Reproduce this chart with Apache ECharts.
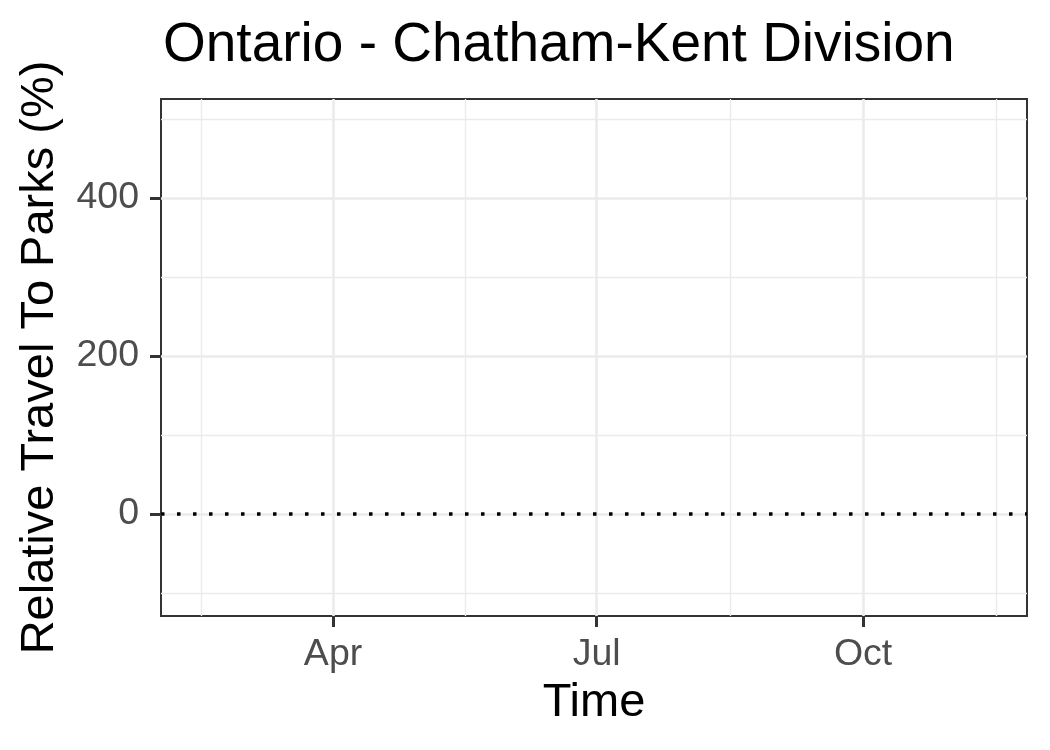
<!DOCTYPE html>
<html>
<head>
<meta charset="utf-8">
<script src="https://cdn.jsdelivr.net/npm/echarts@6/dist/echarts.min.js"></script>
<style>html,body{margin:0;padding:0;background:#fff}#c{width:1050px;height:750px}</style>
</head>
<body>
<div id="c"></div>
<script>
// ---- data ----
const titleText = 'Ontario - Chatham-Kent Division';
const xTitle = 'Time';
const yTitle = 'Relative Travel To Parks (%)';
// x positions are day-of-year 2020 (Jan 1 = 0)
const xTickDays = [91, 182, 274];
const xTickLabels = ['Apr', 'Jul', 'Oct'];
const xMinorDays = [45.5, 136.5, 228, 320];
const xRange = [31.6, 330.6];
const yTicks = [0, 200, 400];
const yMinor = [-100, 100, 300, 500];
const yRange = [-129.1, 525.3];
const refLineValue = [0];
const seriesValues = []; // no data drawn in the reference

const chart = echarts.init(document.getElementById('c'));
const font = 'Liberation Sans, Arial, sans-serif';
const majorStyle = {color: '#ebebeb', width: 2.6, type: 'solid'};
const minorStyle = {color: '#ebebeb', width: 1.4, type: 'solid'};
function ml(data) {
  return {symbol: ['none','none'], silent: true, animation: false,
    label: {show: false}, emphasis: {disabled: true}, data: data};
}
chart.setOption({
  animation: false,
  backgroundColor: '#ffffff',
  title: {text: titleText, left: 158, top: 13,
    textStyle: {fontFamily: font, fontSize: 55, fontWeight: 'normal', color: '#000'}},
  grid: {left: 161, right: 23, top: 99, bottom: 134, show: true, z: 5,
    borderColor: '#333333', borderWidth: 2, backgroundColor: 'transparent'},
  xAxis: {type: 'value', min: xRange[0], max: xRange[1],
    name: xTitle, nameLocation: 'middle', nameGap: 64,
    nameTextStyle: {fontFamily: font, fontSize: 47, color: '#000'},
    axisLine: {show: false, onZero: false},
    splitLine: {show: false},
    axisTick: {show: true, customValues: xTickDays, length: 11, lineStyle: {color: '#333', width: 3}},
    axisLabel: {show: true, customValues: xTickDays, margin: 20,
      fontFamily: font, fontSize: 37.5, color: '#4d4d4d',
      formatter: function (v) { const i = xTickDays.indexOf(v); return i >= 0 ? xTickLabels[i] : ''; }}
  },
  yAxis: {type: 'value', min: yRange[0], max: yRange[1],
    name: yTitle, nameLocation: 'middle', nameGap: 97, nameRotate: 90,
    nameTextStyle: {fontFamily: font, fontSize: 47, color: '#000'},
    axisLine: {show: false, onZero: false},
    splitLine: {show: false},
    axisTick: {show: true, customValues: yTicks, length: 11, lineStyle: {color: '#333', width: 3}},
    axisLabel: {show: true, customValues: yTicks, margin: 22,
      fontFamily: font, fontSize: 37.5, color: '#4d4d4d'}
  },
  series: [
    {type: 'line', z: 1, data: seriesValues, markLine: ml(
      xMinorDays.map(d => ({xAxis: d, lineStyle: minorStyle})).concat(
      yMinor.map(v => ({yAxis: v, lineStyle: minorStyle}))))},
    {type: 'line', z: 1, data: seriesValues, markLine: ml(
      xTickDays.map(d => ({xAxis: d, lineStyle: majorStyle})).concat(
      yTicks.map(v => ({yAxis: v, lineStyle: majorStyle}))))},
    {type: 'line', z: 2, data: seriesValues, markLine: ml(
      refLineValue.map(v => ({yAxis: v, lineStyle: {color: '#000', width: 3.5, type: [3.5, 12.5], cap: 'butt'}})))}
  ]
});
</script>
</body>
</html>
